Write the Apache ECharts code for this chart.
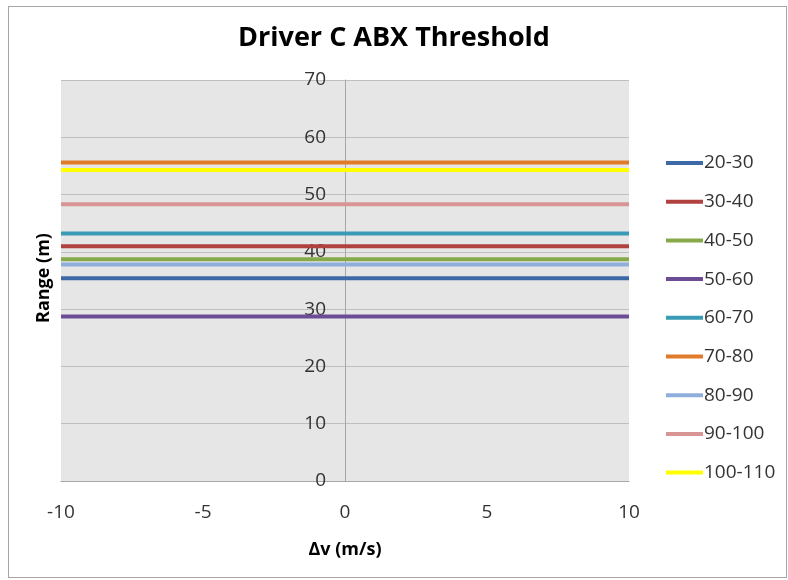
<!DOCTYPE html>
<html lang="en">
<head>
    <meta charset="UTF-8">
    <title>Driver C ABX Threshold</title>
    <script src="https://cdn.jsdelivr.net/npm/echarts@6/dist/echarts.min.js"></script>
    <style>
        body { margin: 0; background: #fff; }
        #frame { position: absolute; left: 8px; top: 6px; width: 777px; height: 570px; border: 1px solid #a6a6a6; }
        #main { position: absolute; left: 0; top: 0; width: 788px; height: 580px; }
    </style>
</head>
<body>
    <div id="frame"></div>
    <div id="main"></div>
    <script type="text/javascript">
        // speed ranges (legend) and threshold range per range
        var speedRanges = ['20-30', '30-40', '40-50', '50-60', '60-70', '70-80', '80-90', '90-100', '100-110'];
        var thresholds = [35.4, 41.0, 38.7, 28.7, 43.2, 55.6, 37.8, 48.3, 54.3];
        var colors = ['#3d6aa6', '#b0413e', '#86a94a', '#6b4c95', '#3a9bb5', '#e07b2b', '#8eaedb', '#d99595', '#ffff00'];
        var dvRange = [-10, 10];
        var xTicks = [-10, -5, 0, 5, 10];
        var yTicks = [0, 10, 20, 30, 40, 50, 60, 70];

        var myChart = echarts.init(document.getElementById('main'));

        var series = speedRanges.map(function (name, i) {
            return {
                name: name,
                type: 'line',
                symbol: 'none',
                data: dvRange.map(function (dv) { return [dv, thresholds[i]]; }),
                lineStyle: { width: 4, color: colors[i] },
                itemStyle: { color: colors[i] }
            };
        });

        var option = {
            animation: false,
            textStyle: { fontFamily: 'Open Sans' },
            title: {
                text: 'Driver C ABX Threshold',
                left: 'center',
                top: 20,
                textStyle: { fontSize: 27, fontWeight: 'bold', color: '#000', fontFamily: 'Open Sans' }
            },
            legend: {
                orient: 'vertical',
                left: 661,
                top: 147,
                icon: 'rect',
                itemWidth: 37,
                itemHeight: 4,
                itemGap: 16.7,
                textStyle: { fontSize: 19, lineHeight: 22, color: '#333', padding: [0, 0, 0, -4] },
                data: speedRanges
            },
            grid: {
                left: 61,
                right: 159,
                top: 80,
                bottom: 99,
                show: true,
                backgroundColor: '#e6e6e6',
                borderWidth: 0
            },
            graphic: [{
                type: 'text',
                x: 44,
                y: 278,
                rotation: Math.PI / 2,
                style: {
                    text: 'Range (m)',
                    font: 'bold 18px "Open Sans"',
                    fill: '#000',
                    align: 'center',
                    verticalAlign: 'middle'
                }
            }],
            xAxis: {
                type: 'value',
                min: xTicks[0],
                max: xTicks[xTicks.length - 1],
                interval: 5,
                name: 'Δv (m/s)',
                nameLocation: 'middle',
                nameGap: 60,
                nameTextStyle: { fontSize: 18, fontWeight: 'bold', color: '#000' },
                axisLine: { lineStyle: { color: '#a6a6a6' } },
                axisTick: { show: false },
                axisLabel: { fontSize: 19, color: '#333', margin: 22 },
                splitLine: { show: false }
            },
            yAxis: {
                type: 'value',
                min: yTicks[0],
                max: yTicks[yTicks.length - 1],
                interval: 10,
                offset: -284,
                axisLine: { show: true, onZero: false, lineStyle: { color: '#a6a6a6' } },
                axisTick: { show: false },
                axisLabel: { fontSize: 19, color: '#333', margin: 19 },
                splitLine: { lineStyle: { color: '#bfbfbf' } }
            },
            series: series
        };

        myChart.setOption(option);
    </script>
</body>
</html>
